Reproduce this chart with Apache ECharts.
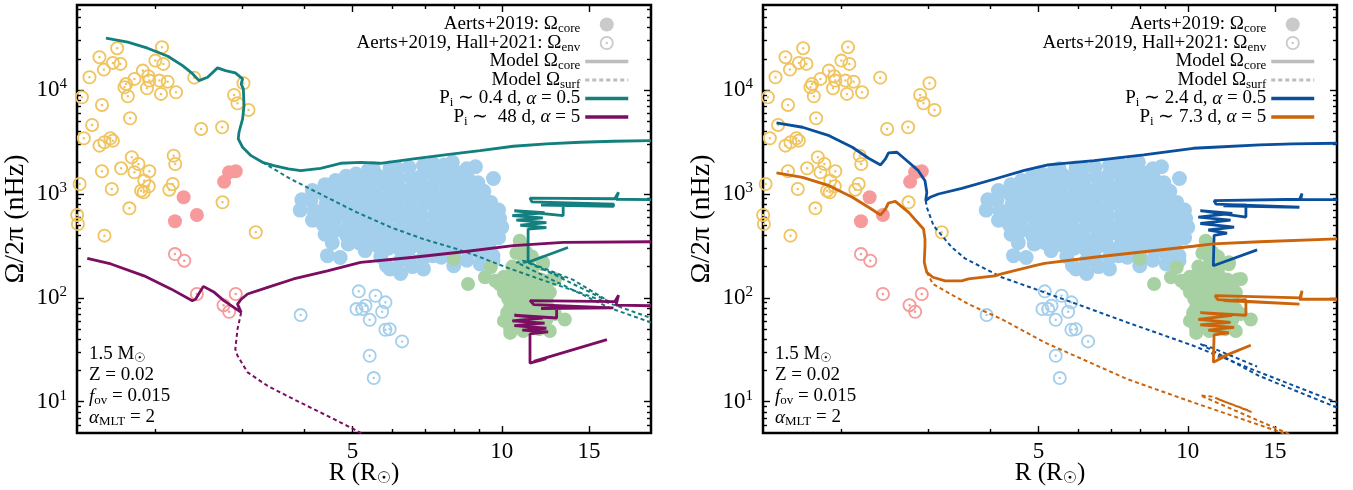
<!DOCTYPE html>
<html><head><meta charset="utf-8">
<script src="https://cdn.jsdelivr.net/npm/echarts@6/dist/echarts.min.js"></script>
<style>html,body{margin:0;padding:0;background:#fff}#c{width:1353px;height:490px}</style>
</head><body><div id="c"></div>
<script>
// ---------------- DATA ----------------
const xMajorTicks = [5, 10, 15];
const xMinorTicks = [2, 3, 4, 6, 7, 8, 9];
const yMajorTicks = [10, 100, 1000, 10000];
const yMinorTicks = [6,7,8,9,20,30,40,50,60,70,80,90,200,300,400,500,600,700,800,900,2000,3000,4000,5000,6000,7000,8000,9000,20000,30000,40000,50000,60000];

// Observations [R (Rsun), Omega/2pi (nHz)]
const yellowEnv = [[1.675,25330],[2.063,25900],[1.543,20750],[1.575,15760],[1.642,18280],[1.701,17880],[2.0,19240],[2.076,17880],[1.473,13310],[1.746,11470],[1.733,10660],[1.815,12820],[1.887,15410],[1.936,13610],[1.945,12350],[1.924,10430],[2.038,12350],[2.118,12070],[2.202,9546],[2.053,9193],[1.760,8733],[1.422,8543],[1.561,7200],[2.396,13190],[3.012,11650],[2.884,8990],[2.929,7477],[3.083,6446],[1.779,5362],[1.491,4620],[1.435,3440],[2.474,4228],[2.728,4391],[1.543,2920],[1.579,3149],[1.623,3440],[1.642,3262],[1.793,2257],[1.849,1945],[1.706,1768],[1.815,1619],[1.945,1655],[1.900,1343],[1.940,1186],[1.872,1076],[1.895,1038],[1.561,1655],[2.178,2339],[2.194,1945],[2.168,1248],[2.134,1100],[1.407,1248],[1.634,1117],[1.391,628],[1.396,514],[1.773,728],[2.733,832],[1.579,397],[3.189,428]];
const redCore = [[2.818,1619],[2.906,1655],[2.753,1314],[2.281,929],[2.191,546],[2.426,628]];
const redEnv = [[2.191,264],[2.288,228],[2.426,109],[2.746,85],[2.818,73.5],[2.906,109]];
const blueEnv = [[3.928,68.3],[5.146,115.5],[5.562,104.8],[5.824,90.5],[5.091,78],[5.228,78],[5.309,83.9],[5.736,73.5],[5.414,61.5],[5.824,49.3],[5.94,50],[6.293,38.1],[5.414,27.7],[5.517,16.9]];
const blueCore = [
[3.95,880],[3.92,700],
[4.15,1080],[4.12,870],[4.18,690],[4.15,560],
[4.4,1230],[4.38,1000],[4.42,800],[4.4,640],[4.36,510],[4.4,410],
[4.62,1350],[4.6,1080],[4.58,870],[4.63,700],[4.6,560],[4.62,450],[4.55,340],[4.45,255],[4.72,245],
[4.85,1480],[4.88,1190],[4.83,950],[4.87,760],[4.85,610],[4.9,490],[4.86,400],[4.9,330],
[5.08,1560],[5.12,1250],[5.1,1000],[5.13,800],[5.08,640],[5.12,520],[5.1,420],[5.15,340],
[5.38,1700],[5.35,1370],[5.33,1100],[5.37,880],[5.35,700],[5.38,560],[5.32,450],[5.36,360],[5.3,285],
[5.5,1750],[5.62,1500],[5.6,1200],[5.58,960],[5.63,770],[5.6,620],[5.62,500],[5.58,400],[5.6,320],[5.7,250],
[5.95,1780],[5.9,1420],[5.92,1140],[5.88,910],[5.93,730],[5.9,590],[5.87,470],[5.92,380],[5.9,300],[5.85,205],[5.95,190],
[6.15,1760],[6.2,1400],[6.22,1120],[6.18,900],[6.2,720],[6.23,580],[6.18,460],[6.2,370],[6.22,295],[6.25,230],[6.25,172],
[6.5,1800],[6.55,1450],[6.58,1160],[6.52,930],[6.55,750],[6.57,600],[6.53,480],[6.56,385],[6.55,305],[6.5,240],[6.6,200],
[6.95,1880],[6.9,1500],[6.92,1200],[6.88,960],[6.93,770],[6.9,610],[6.92,490],[6.88,390],[6.9,310],[6.95,245],[6.95,190],
[7.27,1950],[7.3,1560],[7.32,1250],[7.28,990],[7.3,790],[7.33,630],[7.28,500],[7.3,400],[7.32,320],[7.25,255],
[7.65,1900],[7.7,1520],[7.72,1210],[7.68,970],[7.7,780],[7.72,620],[7.68,490],[7.7,390],[7.72,310],[7.55,246],
[7.95,2020],[8.1,1600],[8.12,1270],[8.08,1010],[8.1,810],[8.13,640],[8.08,510],[8.1,400],[8.12,320],[8.0,255],[8.0,204],
[8.5,1750],[8.55,1400],[8.58,1110],[8.52,890],[8.55,710],[8.57,560],[8.53,450],[8.56,360],[8.55,285],[8.5,230],
[8.85,1830],[8.95,1280],[9.03,1000],[8.98,800],[9.0,640],[9.02,510],[8.98,410],[9.0,330],[9.05,262],[9.05,212],
[9.62,1410],[9.2,1060],[9.5,830],[9.45,670],[9.48,540],[9.42,430],[9.45,345],[9.5,275],[9.6,228],[9.6,254],
[9.85,700],[10.0,480],[9.9,580],[9.85,380]];
const greenCore = [[10.9,330],[10.87,355],[12.1,220],[12.1,211],[9.5,197],[8.55,136],[9.25,158],[9.7,146],[10.1,113],[10.55,176],[11.2,152],[11.8,126],[12.5,113],[10.25,72],[10.1,60],[10.4,50],[11.05,48],[11.9,50],[12.5,48],[13.4,62],[12.3,97],[10.7,94],[11.2,78],[11.8,72],[10.55,121],[10.55,130],[11.8,105],[10.55,78],[11.6,67],[12.3,84],[8.0,236],[10.4,46],[11.3,200],[11.5,250],[10.7,270],[11.0,170],[11.5,115],[12.0,150],[10.9,100],[11.3,60],[12.8,70],[12.0,58],[10.8,140],[11.5,90],[12.6,150],[12.8,152],
[10.4,58],[10.8,55],[11.3,52],[11.7,55],[12.1,53],[10.3,68],[10.7,66],[11.1,64],[11.5,62],[11.9,64],[12.3,62],[10.4,82],[10.8,80],[11.4,84],[11.9,82],[12.5,78],[10.3,98],[10.8,96],[11.2,92],[11.7,95],[12.1,92],[10.2,118],[10.7,112],[11.1,118],[11.6,112],[12.0,120],[9.9,135],[10.4,140],[11.0,136],[11.4,142],[12.2,135],[10.1,160],[10.7,158],[11.1,165],[11.6,160],[10.9,190],[11.5,185],[10.5,200],[11.1,225],[10.9,290],[11.2,275]];

// Models, left panel (Pi ~ 0.4 d teal, Pi ~ 48 d purple)
const tealCoreRGB = [[1.59,31600],[1.76,28950],[1.93,25330],[2.12,21210],[2.27,17220],[2.38,14320],[2.45,12350],[2.55,13310],[2.67,16370],[2.77,15410],[2.90,14650],[3.0,12820],[2.98,11470],[3.01,10270],[3.02,7090],[3.0,5280],[2.95,3930],[2.94,3388],[3.0,2818],[3.12,2339],[3.29,2020],[3.47,1873],[3.71,1741],[3.93,1677],[4.31,1768],[4.73,1976],[5.19,2020],[5.69,1976],[6.64,2174],[7.75,2391],[9.04,2613],[10.55,2881],[12.3,3032],[14.4,3149],[16.8,3219],[20,3262]];
const tealCoreClump = [[20,881],[17.0,890],[17.2,1040],[16.9,900],[11.4,912],[11.5,840],[16.8,800],[16.8,760],[12.0,780],[13.3,790],[13.3,620],[10.6,690],[12.2,660],[10.5,620],[12.1,590],[10.7,560],[12.3,530],[10.9,500],[12.3,475],[11.3,460],[11.3,220],[13.6,305]];
const tealSurfRGB = [[3.29,2020],[3.75,1395],[4.37,963],[5.1,666],[5.97,478],[6.95,368],[8.12,295],[8.9,254],[10.2,197],[12.0,150],[14.4,112],[16.8,86],[20,64]];
const tealSurfClump = [[20,58],[16.5,80],[10.7,220],[11.4,218],[16.6,90],[13.9,150],[11.0,232],[11.8,198],[13.5,152]];
const purpleCoreRGB = [[1.458,240],[1.627,212],[1.898,163],[2.15,122],[2.375,94],[2.41,97],[2.50,129],[2.63,113],[2.75,94],[2.88,81],[2.98,72.5],[2.93,87],[2.98,97],[3.07,109],[3.37,126],[3.80,152],[4.45,182],[5.19,220],[6.64,246],[8.37,278],[10.55,318],[13.3,342],[20,347]];
const purpleSurfRGB = [[2.98,72.5],[2.93,50],[2.90,32.1],[2.93,27.7],[3.07,19.2],[3.37,14.2],[3.80,10.6],[4.45,7.3],[5.03,5.44],[5.69,3.9]];
const purpleCoreClump = [[20,84],[17.0,85],[17.2,106],[16.9,92],[11.4,94],[11.6,86],[16.8,80],[16.8,77],[12.0,79],[12.9,80],[12.9,64],[10.6,68],[12.1,64],[10.5,60],[12.2,57],[10.6,54],[12.3,51],[11.0,49],[12.4,47],[11.4,45],[11.4,23.5],[12.3,26],[11.6,24.5],[16.3,39.7]];

// Models, right panel (Pi ~ 2.4 d blue, Pi ~ 7.3 d orange)
const blueCoreRGB = [[1.48,4830],[1.67,4391],[1.89,3645],[2.105,2818],[2.27,2208],[2.40,1903],[2.455,2174],[2.49,2483],[2.59,2522],[2.735,2020],[2.86,1677],[2.95,1343],[2.975,1038],[2.96,862],[3.02,929],[3.14,1000],[3.50,1134],[4.08,1395],[4.68,1690],[5.22,1903],[6.47,2093],[8.15,2375],[10.26,2756],[11.26,2818],[13.96,2966],[16.28,3032],[20,3080]];
const blueSurfRGB = [[2.96,862],[2.975,745],[3.07,495],[3.34,307],[3.55,240],[4.21,158],[5.14,113],[7.55,58],[10.26,34.6],[13.96,19.2],[20,9.85]];
const blueCoreClump = [[20,881],[16.8,885],[17.0,1010],[16.9,890],[11.3,862],[11.4,800],[16.8,745],[16.8,720],[11.8,771],[13.1,780],[13.1,600],[10.6,690],[12.3,650],[10.5,600],[12.2,560],[10.6,520],[12.4,480],[11.0,450],[12.0,420],[11.3,400],[11.26,204],[13.8,290]];
const blueSurfClump = [[20,8.8],[13.9,17.8],[10.6,36],[11.2,33],[13.8,21.8]];
const orangeCoreRGB = [[1.48,1594],[1.67,1448],[1.89,1202],[2.105,929],[2.27,745],[2.40,628],[2.455,717],[2.49,819],[2.57,850],[2.735,666],[2.89,495],[2.93,460],[2.95,369],[2.95,318],[2.94,220],[2.975,176],[3.06,158],[3.24,146],[3.50,146],[3.61,152],[4.08,163],[4.21,170],[4.91,204],[5.14,215],[6.47,246],[8.15,278],[10.26,314],[11.26,331],[13.96,347],[20,369]];
const orangeSurfRGB = [[2.975,176],[3.06,136],[3.61,87],[4.21,62.5],[5.14,37.3],[7.55,16.5],[10.26,9.84],[15.1,5.25],[17,4.3]];
const orangeCoreClump = [[20,97],[16.8,97],[17.0,117],[16.9,100],[11.35,105],[11.5,96],[16.8,87],[16.8,84],[11.8,94],[13.1,96],[13.1,68],[10.6,72],[12.3,68],[10.5,62],[12.2,58],[10.6,55],[12.4,52],[11.0,49],[12.1,46],[11.3,44],[11.26,24],[12.0,28],[11.5,26],[13.4,35]];
const orangeSurfClump = [[16.5,4.6],[10.6,11.5],[11.2,11.2],[13.5,7.9],[11.5,10.6],[13.3,8.2]];

// Legend / text labels
const legendLabels = {
  obsCore: 'Aerts+2019: Ω{s|core}',
  obsEnv: 'Aerts+2019, Hall+2021: Ω{s|env}',
  modelCore: 'Model Ω{s|core}',
  modelSurf: 'Model Ω{s|surf}',
  tealTrack: 'P{s|i} ∼ 0.4 d, {i|α} = 0.5',
  purpleTrack: 'P{s|i} ∼  48 d, {i|α} = 5',
  blueTrack: 'P{s|i} ∼ 2.4 d, {i|α} = 0.5',
  orangeTrack: 'P{s|i} ∼ 7.3 d, {i|α} = 5'
};

// ---------------- STYLE / OPTION ----------------
const FONT = 'Liberation Serif';
const XMIN = 1.39, XMAX = 20, YMIN = 5, YMAX = 66000;
const C = {teal:'#137f7e', purple:'#7b0e62', blue:'#0a4f9c', orange:'#cc640b',
  yellow:'#f0c45f', red:'#f79a9b', lblue:'#a4cfec', green:'#a7d1a3', grey:'#bdbdbd'};
const RING = 'path://M0,-10A10,10,0,1,1,0,10A10,10,0,1,1,0,-10ZM0,-7.4A7.4,7.4,0,1,0,0,7.4A7.4,7.4,0,1,0,0,-7.4ZM0,-1.8A1.8,1.8,0,1,1,0,1.8A1.8,1.8,0,1,1,0,-1.8Z';
const richSub = {s:{fontSize:13, fontFamily:FONT, padding:[9,0,0,0]}, i:{fontStyle:'italic', fontFamily:FONT, fontSize:19}};

const grids = [
  {left:77, width:574, top:5, height:428},
  {left:763, width:574, top:5, height:428}
];

function tickAxis(dim, g, pos, ticks, len, label, extra) {
  const a = {
    type:'log', logBase:10, gridIndex:g, position:pos,
    min: dim==='x'?XMIN:YMIN, max: dim==='x'?XMAX:YMAX,
    axisLine:{show:false}, splitLine:{show:false}, minorTick:{show:false},
    axisTick:{show:true, inside:true, length:len, customValues:ticks, lineStyle:{color:'#000', width:1.4}},
    axisLabel: label || {show:false}
  };
  return Object.assign(a, extra || {});
}

const xAxes = [], yAxes = [];
for (let g = 0; g < 2; g++) {
  xAxes.push(tickAxis('x', g, 'bottom', xMajorTicks, 7,
    {show:true, customValues:xMajorTicks, fontFamily:FONT, fontSize:23, color:'#000', margin:7},
    {name:'R (R{s|☉})', nameLocation:'middle', nameGap:27, nameMoveOverlap:false,
     nameTextStyle:{fontFamily:FONT, fontSize:25, color:'#000',
       rich:{s:{fontSize:16, fontFamily:'DejaVu Sans', padding:[11,0,0,0]}}}}));
  xAxes.push(tickAxis('x', g, 'bottom', xMinorTicks, 4));
  xAxes.push(tickAxis('x', g, 'top', xMajorTicks, 7));
  xAxes.push(tickAxis('x', g, 'top', xMinorTicks, 4));
  yAxes.push(tickAxis('y', g, 'left', yMajorTicks, 7,
    {show:true, customValues:yMajorTicks, margin:10, color:'#000',
     formatter: v => '{b|10}{p|' + Math.round(Math.log10(v)) + '}',
     rich:{b:{fontFamily:FONT, fontSize:23, color:'#000'}, p:{fontFamily:FONT, fontSize:15, color:'#000', padding:[0,0,12,0]}}},
    {name:'Ω/2π (nHz)', nameLocation:'middle', nameGap:47, nameMoveOverlap:false,
     nameTextStyle:{fontFamily:FONT, fontSize:28, color:'#000'}}));
  yAxes.push(tickAxis('y', g, 'left', yMinorTicks, 4));
  yAxes.push(tickAxis('y', g, 'right', yMajorTicks, 7));
  yAxes.push(tickAxis('y', g, 'right', yMinorTicks, 4));
}

function scat(name, data, g, color, ring, size) {
  return {type:'scatter', name, data, xAxisIndex:4*g, yAxisIndex:4*g, clip:false,
    symbol: ring ? RING : 'circle', symbolSize:size || 14,
    itemStyle:{color, opacity:1}, silent:true};
}
function line(name, data, g, color, dashed) {
  return {type:'line', name, data, xAxisIndex:4*g, yAxisIndex:4*g, symbol:'none', showSymbol:false,
    clip:true, silent:true, z:5,
    lineStyle: dashed ? {color, width:2, type:[4,3]} : {color, width:2.8},
    itemStyle:{color}};
}

const series = [];
// legend-only entries
series.push({type:'scatter', name:'obsCore', data:[], symbol:'circle', itemStyle:{color:C.grey}});
series.push({type:'scatter', name:'obsEnv', data:[], symbol:RING, itemStyle:{color:C.grey}});
series.push({type:'line', name:'modelCore', data:[], symbol:'none', lineStyle:{color:C.grey, width:3.5}, itemStyle:{color:C.grey}});
series.push({type:'line', name:'modelSurf', data:[], symbol:'none', lineStyle:{color:C.grey, width:3, type:[4,3]}, itemStyle:{color:C.grey}});

for (let g = 0; g < 2; g++) {
  series.push(scat('y'+g, yellowEnv, g, C.yellow, true));
  series.push(scat('rc'+g, redCore, g, C.red, false));
  series.push(scat('re'+g, redEnv, g, C.red, true));
  series.push(scat('bc'+g, blueCore, g, C.lblue, false, 15));
  series.push(scat('be'+g, blueEnv, g, C.lblue, true));
  series.push(scat('gc'+g, greenCore, g, C.green, false));
}
series.push(line('tealTrack', tealCoreRGB, 0, C.teal));
series.push(line('tc2', tealCoreClump, 0, C.teal));
series.push(line('ts1', tealSurfRGB, 0, C.teal, true));
series.push(line('ts2', tealSurfClump, 0, C.teal, true));
series.push(line('purpleTrack', purpleCoreRGB, 0, C.purple));
series.push(line('pc2', purpleCoreClump, 0, C.purple));
series.push(line('ps1', purpleSurfRGB, 0, C.purple, true));
series.push(line('blueTrack', blueCoreRGB, 1, C.blue));
series.push(line('bc2', blueCoreClump, 1, C.blue));
series.push(line('bs1', blueSurfRGB, 1, C.blue, true));
series.push(line('bs2', blueSurfClump, 1, C.blue, true));
series.push(line('orangeTrack', orangeCoreRGB, 1, C.orange));
series.push(line('oc2', orangeCoreClump, 1, C.orange));
series.push(line('os1', orangeSurfRGB, 1, C.orange, true));
series.push(line('os2', orangeSurfClump, 1, C.orange, true));

function mkLegend(names, right) {
  return {
    orient:'vertical', align:'right', right, top:15, padding:0, itemGap:-2,
    itemWidth:43, itemHeight:14, selectedMode:false,
    data: names.map(n => {
      const d = {name:n};
      if (n === 'modelCore' || /Track$/.test(n)) d.lineStyle = {width:3.5};
      if (n === 'modelSurf') d.lineStyle = {width:3};
      if (n === 'modelCore' || n === 'modelSurf' || /Track$/.test(n)) d.itemStyle = {opacity:0, color:'rgba(0,0,0,0)', borderWidth:0};
      if (n === 'obsEnv') d.icon = RING;
      if (n === 'obsCore') d.icon = 'circle';
      return d;
    }),
    formatter: n => legendLabels[n],
    textStyle:{fontFamily:FONT, fontSize:19, color:'#000', rich:richSub}
  };
}

const annot = '1.5 M{s|☉}\nZ = 0.02\n{i|f}{s|ov} = 0.015\n{i|α}{s|MLT} = 2';
const annRich = {s:{fontSize:13, fontFamily:FONT, padding:[9,0,0,0], fill:'#000'}, i:{fontStyle:'italic', fontFamily:FONT, fontSize:19, fill:'#000'}};

const option = {
  animation:false,
  backgroundColor:'#fff',
  grid: grids.map(g => Object.assign({show:true, borderColor:'#000', borderWidth:2.5, backgroundColor:'transparent', outerBoundsMode:'none', containLabel:false}, g)),
  xAxis: xAxes,
  yAxis: yAxes,
  legend: [
    mkLegend(['obsCore','obsEnv','modelCore','modelSurf','tealTrack','purpleTrack'], 1353-630),
    mkLegend(['obsCore','obsEnv','modelCore','modelSurf','blueTrack','orangeTrack'], 1353-1316)
  ],
  graphic: [
    {type:'text', left:89, top:344, z:100, style:{text:annot, fontFamily:FONT, fontSize:19, lineHeight:21, fill:'#000', rich:annRich}},
    {type:'text', left:775, top:344, z:100, style:{text:annot, fontFamily:FONT, fontSize:19, lineHeight:21, fill:'#000', rich:annRich}}
  ],
  series
};
const chart = echarts.init(document.getElementById('c'));
chart.setOption(option);
</script></body></html>
